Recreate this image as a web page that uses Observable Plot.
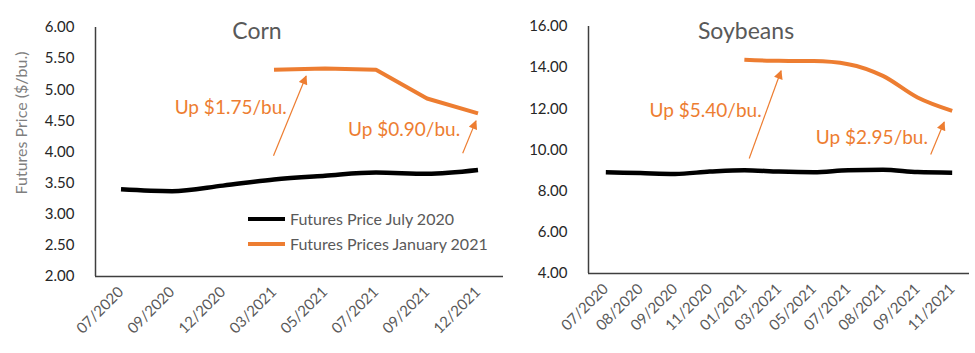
<!DOCTYPE html>
<html>
<head>
<meta charset="utf-8">
<script src="https://cdn.jsdelivr.net/npm/d3@7"></script>
<script src="https://cdn.jsdelivr.net/npm/@observablehq/plot@0.6"></script>
<style>
  html, body { margin: 0; padding: 0; background: #fff; }
  #wrap { position: relative; width: 975px; height: 353px; font-family: Lato, "Open Sans", sans-serif; overflow: hidden; }
  #wrap > svg { position: absolute; top: 0; }
  .title { position: absolute; color: #595959; font-size: 23px; transform: translate(-50%, -50%); white-space: nowrap; }
  .ylab { position: absolute; color: #7f7f7f; font-size: 16px; white-space: nowrap; transform: translate(-50%, -50%) rotate(-90deg); }
  .legend { position: absolute; color: #595959; font-size: 16px; }
  .legend .item { display: flex; align-items: center; height: 25px; }
  .legend .sw { width: 37px; height: 4px; margin-right: 5px; }
  svg [aria-label^="x-axis"] { fill: #595959; font-size: 15px; }
  svg [aria-label^="y-axis"] { fill: #262626; font-size: 15px; }
</style>
</head>
<body>
<div id="wrap"></div>
<script>
// ---- Data ----
const cornMonths = ["07/2020", "09/2020", "12/2020", "03/2021", "05/2021", "07/2021", "09/2021", "12/2021"];
const cornJuly2020 = [3.40, 3.37, 3.46, 3.56, 3.62, 3.67, 3.65, 3.71];
const cornJan2021 = [null, null, null, 5.32, 5.34, 5.32, 4.86, 4.62];
const cornTicks = [2, 2.5, 3, 3.5, 4, 4.5, 5, 5.5, 6];

const soyMonths = ["07/2020", "08/2020", "09/2020", "11/2020", "01/2021", "03/2021", "05/2021", "07/2021", "08/2021", "09/2021", "11/2021"];
const soyJuly2020 = [8.92, 8.88, 8.84, 8.95, 9.02, 8.95, 8.92, 9.02, 9.04, 8.93, 8.90];
const soyJan2021 = [null, null, null, null, 14.39, 14.33, 14.32, 14.17, 13.60, 12.55, 11.90];
const soyTicks = [4, 6, 8, 10, 12, 14, 16];

// annotations (x as month index, y in $/bu.)
const cornNoteText = ["Up $1.75/bu.", "Up $0.90/bu."];
const cornNoteX = [3.25, 6.65];
const cornNoteY = [4.71, 4.35];
const cornArrowX1 = [2.99, 6.70], cornArrowY1 = [3.94, 3.98];
const cornArrowX2 = [3.63, 6.96], cornArrowY2 = [5.22, 4.50];

const soyNoteText = ["Up $5.40/bu.", "Up $2.95/bu."];
const soyNoteX = [4.50, 9.30];
const soyNoteY = [11.92, 10.61];
const soyArrowX1 = [4.14, 9.38], soyArrowY1 = [9.59, 9.78];
const soyArrowX2 = [5.06, 9.77], soyArrowY2 = [13.85, 11.36];

const legendLabels = ["Futures Price July 2020", "Futures Prices January 2021"];
const seriesColors = ["#000000", "#ED7D31"];

// ---- Helpers ----
function series(vals) {
  return vals.map((v, i) => ({i, v})).filter(d => d.v != null);
}
function notes(text, xs, ys) { return text.map((t, k) => ({t, x: xs[k], y: ys[k]})); }
function arrows(x1, y1, x2, y2) { return x1.map((_, k) => ({x1: x1[k], y1: y1[k], x2: x2[k], y2: y2[k]})); }

function panel({months, s1, s2, yDomain, yTicks, width, marginLeft, marginRight, marginTop, marginBottom, noteData, arrowData, curve2}) {
  const n = months.length;
  const svg = Plot.plot({
    width, height: 353,
    marginLeft, marginRight, marginTop, marginBottom,
    style: {background: "transparent", fontFamily: "Lato, 'Open Sans', sans-serif", overflow: "visible"},
    x: {type: "linear", domain: [-0.5, n - 0.5], ticks: d3.range(n), tickFormat: i => months[i],
        tickRotate: -45, tickSize: 0, tickPadding: 13, label: null},
    y: {domain: yDomain, ticks: yTicks, tickFormat: d3.format(".2f"), tickSize: 0, tickPadding: 21, label: null},
    marks: [
      Plot.ruleY([yDomain[0]], {stroke: "#3f3f3f", strokeWidth: 1.5}),
      Plot.ruleX([-0.5], {stroke: "#3f3f3f", strokeWidth: 1.5}),
      Plot.line(series(s1), {x: "i", y: "v", stroke: seriesColors[0], strokeWidth: 4.5, curve: "monotone-x", strokeLinecap: "butt"}),
      Plot.line(series(s2), {x: "i", y: "v", stroke: seriesColors[1], strokeWidth: 4, curve: curve2, strokeLinecap: "butt", strokeLinejoin: "round"}),
      Plot.link(arrowData, {x1: "x1", y1: "y1", x2: "x2", y2: "y2", stroke: seriesColors[1], strokeWidth: 1.2}),
      Plot.text(noteData, {x: "x", y: "y", text: "t", textAnchor: "end", fill: seriesColors[1], fontSize: 19})
    ]
  });
  // filled arrowheads
  const ns = "http://www.w3.org/2000/svg";
  const id = "ah" + Math.random().toString(36).slice(2);
  const defs = document.createElementNS(ns, "defs");
  const marker = document.createElementNS(ns, "marker");
  marker.setAttribute("id", id);
  marker.setAttribute("viewBox", "0 0 10 10");
  marker.setAttribute("refX", "9");
  marker.setAttribute("refY", "5");
  marker.setAttribute("markerWidth", "10");
  marker.setAttribute("markerHeight", "9");
  marker.setAttribute("markerUnits", "userSpaceOnUse");
  marker.setAttribute("orient", "auto");
  const p = document.createElementNS(ns, "path");
  p.setAttribute("d", "M0,0L10,5L0,10Z");
  p.setAttribute("fill", seriesColors[1]);
  marker.appendChild(p);
  defs.appendChild(marker);
  svg.insertBefore(defs, svg.firstChild);
  svg.querySelectorAll('g[aria-label="link"] path').forEach(el => el.setAttribute("marker-end", `url(#${id})`));
  return svg;
}

const wrap = document.getElementById("wrap");

const left = panel({
  months: cornMonths, s1: cornJuly2020, s2: cornJan2021, yDomain: [2, 6], yTicks: cornTicks,
  width: 510, marginLeft: 95, marginRight: 7, marginTop: 27, marginBottom: 77,
  noteData: notes(cornNoteText, cornNoteX, cornNoteY),
  arrowData: arrows(cornArrowX1, cornArrowY1, cornArrowX2, cornArrowY2),
  curve2: "linear"
});
left.style.left = "0px";
wrap.appendChild(left);

const right = panel({
  months: soyMonths, s1: soyJuly2020, s2: soyJan2021, yDomain: [4, 16], yTicks: soyTicks,
  width: 485, marginLeft: 98, marginRight: 6, marginTop: 26, marginBottom: 80,
  noteData: notes(soyNoteText, soyNoteX, soyNoteY),
  arrowData: arrows(soyArrowX1, soyArrowY1, soyArrowX2, soyArrowY2),
  curve2: "monotone-x"
});
right.style.left = "490px";
wrap.appendChild(right);

// titles, axis label, legend
function addDiv(cls, text, left, top) {
  const d = document.createElement("div");
  d.className = cls; d.textContent = text;
  d.style.left = left + "px"; d.style.top = top + "px";
  wrap.appendChild(d);
  return d;
}
addDiv("title", "Corn", 257, 30);
addDiv("title", "Soybeans", 746, 30);
addDiv("ylab", "Futures Price ($/bu.)", 20, 123);

const leg = document.createElement("div");
leg.className = "legend";
leg.style.left = "248px"; leg.style.top = "206px";
legendLabels.forEach((lab, k) => {
  const it = document.createElement("div"); it.className = "item";
  const sw = document.createElement("span"); sw.className = "sw"; sw.style.background = seriesColors[k];
  const tx = document.createElement("span"); tx.textContent = lab;
  it.appendChild(sw); it.appendChild(tx); leg.appendChild(it);
});
wrap.appendChild(leg);
</script>
</body>
</html>
